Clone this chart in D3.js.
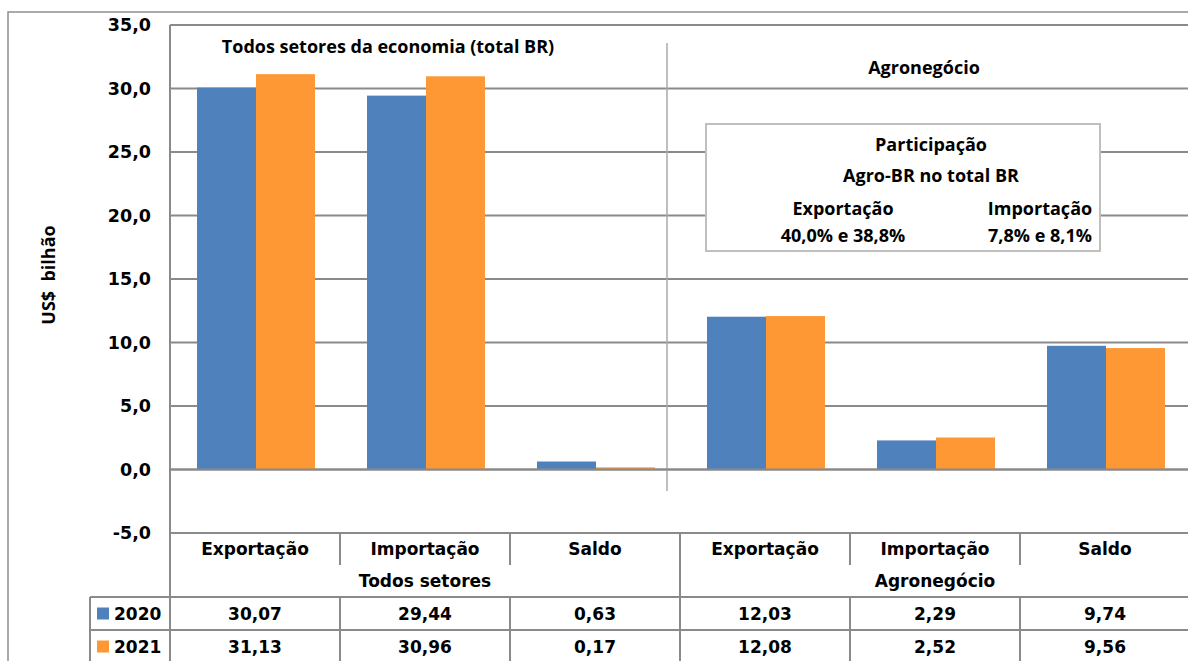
<!DOCTYPE html>
<html lang="pt-BR">
<head>
<meta charset="utf-8">
<script src="https://cdn.jsdelivr.net/npm/d3@7"></script>
<style>
  html, body { margin: 0; padding: 0; background: #fff; }
  svg { display: block; }
  .tah { font-family: "DejaVu Sans", Verdana, sans-serif; font-weight: bold; }
  .cal { font-family: "Open Sans", Lato, sans-serif; font-weight: bold; font-size: 18px; }
</style>
</head>
<body>
<svg id="chart" width="1188" height="661"></svg>
<script>
// Balança comercial: total Brasil vs. agronegócio (US$ bilhão)
const categories = ["Exportação", "Importação", "Saldo", "Exportação", "Importação", "Saldo"];
const groups = ["Todos setores", "Agronegócio"];
const series = ["2020", "2021"];
const values2020 = [30.07, 29.44, 0.63, 12.03, 2.29, 9.74];
const values2021 = [31.13, 30.96, 0.17, 12.08, 2.52, 9.56];
const yTicks = [-5, 0, 5, 10, 15, 20, 25, 30, 35];
const panelTitles = ["Todos setores da economia (total BR)", "Agronegócio"];
const shareTitle = ["Participação", "Agro-BR no total BR"];
const shareLabels = ["Exportação", "Importação"];
const shareValues = ["40,0% e 38,8%", "7,8% e 8,1%"];

const colors = { "2020": "#4f81bd", "2021": "#fd9834" };
const gridColor = "#8a8a8a";
const locale = d3.formatLocale({ decimal: ",", thousands: ".", grouping: [3], currency: ["", ""], minus: "-" });
const fmtAxis = locale.format(".1f");
const fmtVal = locale.format(".2f");

const svg = d3.select("#chart");
const plot = { left: 170, right: 1190, top: 25, bottom: 533 };

const idx = d3.range(categories.length);
const x0 = d3.scaleBand().domain(idx).range([plot.left, plot.right]).padding(0);
const x1 = d3.scaleBand().domain(series).range([27, x0.bandwidth() - 25]).padding(0);
const y = d3.scaleLinear().domain([-5, 35]).range([plot.bottom, plot.top]);

const valuesBySeries = { "2020": values2020, "2021": values2021 };

// outer frame
svg.append("rect")
  .attr("x", 8).attr("y", 12).attr("width", 1300).attr("height", 800)
  .attr("fill", "none").attr("stroke", "#8e8e8e").attr("stroke-width", 1.5);

// horizontal gridlines
svg.append("g").selectAll("line").data(yTicks).join("line")
  .attr("x1", plot.left).attr("x2", plot.right)
  .attr("y1", d => y(d)).attr("y2", d => y(d))
  .attr("stroke", gridColor).attr("stroke-width", 2);

// y axis labels
const yAxis = d3.axisLeft(y).tickValues(yTicks).tickFormat(fmtAxis).tickSize(0).tickPadding(19);
const gy = svg.append("g").attr("transform", `translate(${plot.left},0)`).call(yAxis);
gy.select(".domain").remove();
gy.selectAll("text").attr("class", "tah").style("font-size", "17.5px").attr("fill", "#000");

// y axis title
svg.append("text")
  .attr("class", "cal")
  .attr("transform", "translate(55,275) rotate(-90)")
  .attr("text-anchor", "middle")
  .style("white-space", "pre")
  .text("US$  bilhão");

// panel separator
svg.append("line")
  .attr("x1", 667).attr("x2", 667).attr("y1", 43).attr("y2", 491)
  .attr("stroke", "#aaaaaa").attr("stroke-width", 1.5);

// bars
const bars = svg.append("g");
series.forEach(s => {
  bars.selectAll(null).data(idx).join("rect")
    .attr("x", i => x0(i) + x1(s))
    .attr("width", x1.bandwidth())
    .attr("y", i => y(Math.max(0, valuesBySeries[s][i])))
    .attr("height", i => Math.abs(y(valuesBySeries[s][i]) - y(0)))
    .attr("fill", colors[s]);
});

// zero line above bars
svg.append("line")
  .attr("x1", plot.left).attr("x2", plot.right)
  .attr("y1", y(0)).attr("y2", y(0))
  .attr("stroke", gridColor).attr("stroke-width", 2);

// panel titles
svg.append("text").attr("class", "cal")
  .attr("x", 388).attr("y", 53).attr("text-anchor", "middle")
  .text(panelTitles[0]);
svg.append("text").attr("class", "cal")
  .attr("x", 924).attr("y", 74).attr("text-anchor", "middle")
  .text(panelTitles[1]);

// share box
const box = svg.append("g");
box.append("rect")
  .attr("x", 706).attr("y", 124).attr("width", 394).attr("height", 127)
  .attr("fill", "#fff").attr("stroke", "#bfbfbf").attr("stroke-width", 2);
box.selectAll(".st").data(shareTitle).join("text").attr("class", "cal")
  .attr("x", 931).attr("y", (d, i) => 151 + i * 31).attr("text-anchor", "middle")
  .text(d => d);
const shareX = [843, 1040];
box.selectAll(".sl").data(shareLabels).join("text").attr("class", "cal")
  .attr("x", (d, i) => shareX[i]).attr("y", 215).attr("text-anchor", "middle")
  .text(d => d);
box.selectAll(".sv").data(shareValues).join("text").attr("class", "cal")
  .attr("x", (d, i) => shareX[i]).attr("y", 242).attr("text-anchor", "middle")
  .text(d => d);

// data table
const tbl = svg.append("g");
const rowTop = [597, 630];
const tableLeft = 90;
const lineAttrs = sel => sel.attr("stroke", gridColor).attr("stroke-width", 2);

// plot/table left border
tbl.append("line").attr("x1", plot.left).attr("x2", plot.left)
  .attr("y1", plot.top).attr("y2", 661).call(lineAttrs);
// divider between the two groups
tbl.append("line").attr("x1", x0(3)).attr("x2", x0(3))
  .attr("y1", plot.bottom).attr("y2", 661).call(lineAttrs);
// category dividers (header row and value rows)
[1, 2, 4, 5].forEach(i => {
  tbl.append("line").attr("x1", x0(i)).attr("x2", x0(i))
    .attr("y1", plot.bottom).attr("y2", 565).call(lineAttrs);
  tbl.append("line").attr("x1", x0(i)).attr("x2", x0(i))
    .attr("y1", rowTop[0]).attr("y2", 661).call(lineAttrs);
});
// row lines
rowTop.forEach(yy => {
  tbl.append("line").attr("x1", tableLeft).attr("x2", plot.right)
    .attr("y1", yy).attr("y2", yy).call(lineAttrs);
});
tbl.append("line").attr("x1", tableLeft).attr("x2", tableLeft)
  .attr("y1", rowTop[0]).attr("y2", 661).call(lineAttrs);

// category labels
tbl.selectAll(".cat").data(idx).join("text").attr("class", "tah")
  .attr("x", i => x0(i) + x0.bandwidth() / 2).attr("y", 555)
  .attr("text-anchor", "middle").style("font-size", "17px")
  .text(i => categories[i]);
// group labels
tbl.selectAll(".grp").data(groups).join("text").attr("class", "tah")
  .attr("x", (d, g) => (x0(g * 3) + x0(g * 3 + 2) + x0.bandwidth()) / 2).attr("y", 587)
  .attr("text-anchor", "middle").style("font-size", "17px")
  .text(d => d);

// value rows with legend keys
series.forEach((s, r) => {
  const cy = rowTop[r] + 16.5;
  tbl.append("rect").attr("x", 97).attr("y", cy - 6).attr("width", 12).attr("height", 12)
    .attr("fill", colors[s]);
  tbl.append("text").attr("class", "tah")
    .attr("x", 114).attr("y", cy + 6.5).style("font-size", "17px").text(s);
  tbl.selectAll(null).data(idx).join("text").attr("class", "tah")
    .attr("x", i => x0(i) + x0.bandwidth() / 2).attr("y", cy + 6.5)
    .attr("text-anchor", "middle").style("font-size", "17px")
    .text(i => fmtVal(valuesBySeries[s][i]));
});
</script>
</body>
</html>
